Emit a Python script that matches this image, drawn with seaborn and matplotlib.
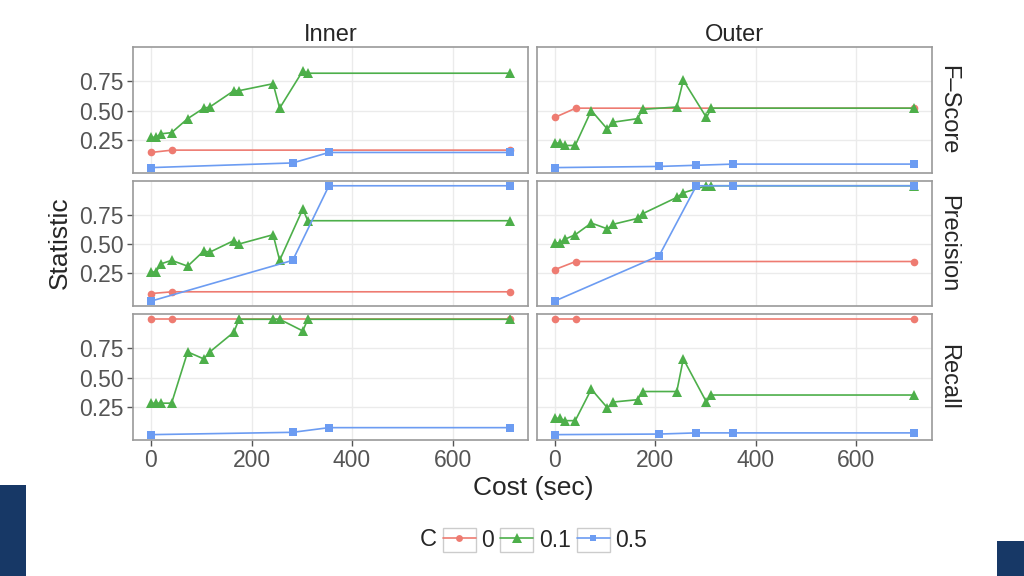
import pandas as pd
import seaborn as sns
import matplotlib.pyplot as plt
from matplotlib.lines import Line2D
from matplotlib.patches import Rectangle
from matplotlib.legend_handler import HandlerLine2D
from matplotlib.ticker import FormatStrFormatter

# Cost values (sec) for each C setting
cost_c0 = [0, 42, 715]
cost_c01 = [0, 10, 20, 41, 73, 105, 117, 165, 175, 243, 256, 302, 312, 715]
cost_c05_inner = [0, 282, 354, 715]
cost_c05_outer = [0, 208, 282, 355, 715]

# Inner
inner_fscore_c0 = [0.14, 0.16, 0.16]
inner_fscore_c01 = [0.27, 0.27, 0.30, 0.31, 0.43, 0.52, 0.53, 0.67, 0.67, 0.73, 0.52, 0.84, 0.82, 0.82]
inner_fscore_c05 = [0.01, 0.05, 0.14, 0.14]
inner_prec_c0 = [0.075, 0.09, 0.09]
inner_prec_c01 = [0.26, 0.26, 0.33, 0.36, 0.31, 0.44, 0.43, 0.53, 0.50, 0.58, 0.36, 0.80, 0.70, 0.70]
inner_prec_c05 = [0.01, 0.36, 1.0, 1.0]
inner_rec_c0 = [1.0, 1.0, 1.0]
inner_rec_c01 = [0.28, 0.28, 0.28, 0.28, 0.72, 0.66, 0.72, 0.89, 1.0, 1.0, 1.0, 0.90, 1.0, 1.0]
inner_rec_c05 = [0.01, 0.03, 0.07, 0.07]

# Outer
outer_fscore_c0 = [0.44, 0.52, 0.52]
outer_fscore_c01 = [0.22, 0.22, 0.20, 0.20, 0.50, 0.34, 0.40, 0.43, 0.51, 0.53, 0.76, 0.44, 0.52, 0.52]
outer_fscore_c05 = [0.01, 0.02, 0.03, 0.04, 0.04]
outer_prec_c0 = [0.28, 0.35, 0.35]
outer_prec_c01 = [0.51, 0.51, 0.54, 0.58, 0.68, 0.63, 0.67, 0.72, 0.76, 0.90, 0.94, 1.0, 1.0, 1.0]
outer_prec_c05 = [0.01, 0.40, 1.0, 1.0, 1.0]
outer_rec_c0 = [1.0, 1.0, 1.0]
outer_rec_c01 = [0.15, 0.15, 0.13, 0.13, 0.40, 0.24, 0.29, 0.31, 0.38, 0.38, 0.66, 0.29, 0.35, 0.35]
outer_rec_c05 = [0.01, 0.015, 0.025, 0.025, 0.025]

columns = ["Inner", "Outer"]
stats = ["F–Score", "Precision", "Recall"]
c_levels = ["0", "0.1", "0.5"]

series = {
    ("Inner", "F–Score"): (inner_fscore_c0, inner_fscore_c01, inner_fscore_c05),
    ("Inner", "Precision"): (inner_prec_c0, inner_prec_c01, inner_prec_c05),
    ("Inner", "Recall"): (inner_rec_c0, inner_rec_c01, inner_rec_c05),
    ("Outer", "F–Score"): (outer_fscore_c0, outer_fscore_c01, outer_fscore_c05),
    ("Outer", "Precision"): (outer_prec_c0, outer_prec_c01, outer_prec_c05),
    ("Outer", "Recall"): (outer_rec_c0, outer_rec_c01, outer_rec_c05),
}

rows = []
for (col, stat), (v0, v01, v05) in series.items():
    c05_cost = cost_c05_inner if col == "Inner" else cost_c05_outer
    for c, xs, ys in zip(c_levels, (cost_c0, cost_c01, c05_cost), (v0, v01, v05)):
        for x, y in zip(xs, ys):
            rows.append((col, stat, c, x, y))
df = pd.DataFrame(rows, columns=["Location", "Statistic", "C", "Cost", "Value"])

palette = {"0": "#EE7B71", "0.1": "#4DAF4A", "0.5": "#6C9CF2"}
markers = {"0": "o", "0.1": "^", "0.5": "s"}
msizes = {"o": 5.5, "^": 7.5, "s": 5.5}

sns.set_style("white")
plt.rcParams["font.family"] = ["Liberation Sans", "DejaVu Sans"]

fig, axes = plt.subplots(3, 2, figsize=(10.24, 5.76), dpi=100, sharex=True, sharey=True)
fig.subplots_adjust(left=133 / 1024, right=932 / 1024, top=1 - 47 / 576,
                    bottom=1 - 440 / 576, wspace=0.021, hspace=0.06)

for i, stat in enumerate(stats):
    for j, col in enumerate(columns):
        ax = axes[i, j]
        sub = df[(df["Location"] == col) & (df["Statistic"] == stat)]
        sns.lineplot(data=sub, x="Cost", y="Value", hue="C", style="C",
                     hue_order=c_levels, style_order=c_levels, palette=palette,
                     markers=markers, dashes=False, estimator=None, sort=False,
                     legend=False, ax=ax, lw=1.2, mew=0)
        for ln in ax.lines:
            ln.set_markersize(msizes.get(ln.get_marker(), 5.5))
        ax.set_xlim(-35.75, 750.75)
        ax.set_ylim(-0.036, 1.045)
        ax.set_xticks([0, 200, 400, 600])
        ax.set_yticks([0.25, 0.5, 0.75])
        ax.yaxis.set_major_formatter(FormatStrFormatter("%.2f"))
        ax.grid(True, color="#ebebeb", lw=1)
        ax.set_axisbelow(True)
        for sp in ax.spines.values():
            sp.set_color("#9a9a9a")
            sp.set_linewidth(1.2)
        ax.set_xlabel("")
        ax.set_ylabel("")
        ax.tick_params(length=4.5, width=1, color="#555555", labelcolor="#555555",
                       labelsize=16.5, pad=2,
                       bottom=(i == 2), left=(j == 0))
        if i == 0:
            ax.set_title(col, fontsize=17, pad=4)
        if j == 1:
            ax.annotate(stat, xy=(1, 0.5), xycoords="axes fraction", xytext=(4, 0),
                        textcoords="offset points", rotation=270, ha="left",
                        va="center", fontsize=17)

fig.text(60 / 1024, 1 - 243 / 576, "Statistic", rotation=90, ha="center",
         va="center", fontsize=19)
fig.text(533 / 1024, 1 - 488 / 576, "Cost (sec)", ha="center", va="center",
         fontsize=19)


class BoxedKey(HandlerLine2D):
    def create_artists(self, legend, orig_handle, xdescent, ydescent, width,
                       height, fontsize, trans):
        box = Rectangle((-xdescent, -ydescent), width, height, facecolor="white",
                        edgecolor="#cccccc", lw=1, transform=trans)
        arts = super().create_artists(legend, orig_handle, xdescent, ydescent,
                                      width, height, fontsize, trans)
        return [box] + list(arts)


handles = [Line2D([], [], color=palette[c], marker=markers[c], lw=1.2, mew=0,
                  markersize=msizes[markers[c]] * 0.9) for c in c_levels]
leg = fig.legend(handles, c_levels, loc="center", bbox_to_anchor=(545 / 1024, 1 - 540 / 576),
                 ncol=3, frameon=False, fontsize=16.5, handlelength=1.45,
                 handleheight=1.25, handletextpad=0.25, columnspacing=0.25,
                 handler_map={Line2D: BoxedKey()})
fig.text(428 / 1024, 1 - 540 / 576, "C", ha="center", va="center", fontsize=17)

# slide decoration in the corners
fig.patches.append(Rectangle((0, 0), 26 / 1024, 91 / 576, transform=fig.transFigure,
                             facecolor="#173866", edgecolor="none", zorder=-1))
fig.patches.append(Rectangle((997 / 1024, 0), 27 / 1024, 35 / 576, transform=fig.transFigure,
                             facecolor="#173866", edgecolor="none", zorder=-1))

fig.savefig("out.png", dpi=100)
plt.close(fig)
